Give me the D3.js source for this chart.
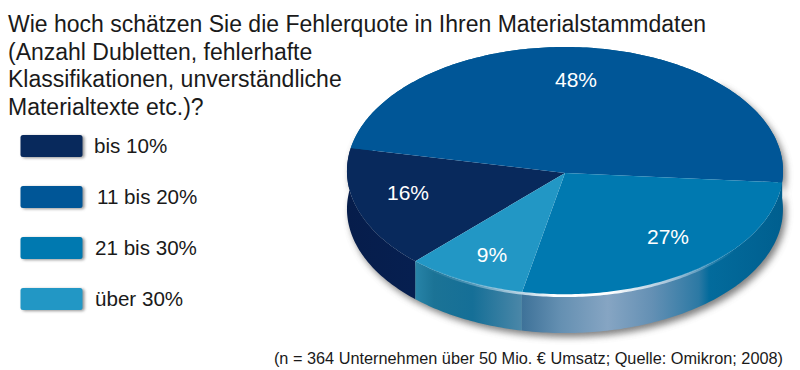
<!DOCTYPE html>
<html><head><meta charset="utf-8">
<script src="https://cdn.jsdelivr.net/npm/d3@7"></script>
<style>html,body{margin:0;padding:0;background:#fff}svg{display:block}text{font-family:"Liberation Sans",Arial,sans-serif}</style>
</head><body><svg id="c" width="800" height="370"></svg>
<script>
const categories=["bis 10%","11 bis 20%","21 bis 30%","über 30%"];
const values=[16,48,27,9];
const sliceColors=["#08295c","#005697","#0079b0","#2297c5"];
const titleLines=["Wie hoch schätzen Sie die Fehlerquote in Ihren Materialstammdaten","(Anzahl Dubletten, fehlerhafte","Klassifikationen, unverständliche","Materialtexte etc.)?"];
const sourceNote="(n = 364 Unternehmen über 50 Mio. € Umsatz; Quelle: Omikron; 2008)";

const svg=d3.select("#c");
const defs=svg.append("defs");
const sh=defs.append("filter").attr("id","sh").attr("x","-10%").attr("y","-10%").attr("width","120%").attr("height","130%");
sh.append("feGaussianBlur").attr("stdDeviation",3.5);
const sh2=defs.append("filter").attr("id","sh2").attr("x","-20%").attr("y","-30%").attr("width","140%").attr("height","170%");
sh2.append("feGaussianBlur").attr("stdDeviation",1.5);
const rimBlur=defs.append("filter").attr("id","rim").attr("x","-5%").attr("y","-20%").attr("width","110%").attr("height","140%");
rimBlur.append("feGaussianBlur").attr("stdDeviation",0.7);

function grad(id,x1,x2,stops){
  const g=defs.append("linearGradient").attr("id",id).attr("gradientUnits","userSpaceOnUse")
    .attr("x1",x1).attr("x2",x2).attr("y1",0).attr("y2",0);
  stops.forEach(s=>g.append("stop").attr("offset",s[0]).attr("stop-color",s[1]));
}
grad("w9",412,522,[[0,"#2a87ab"],[.2,"#1b7396"],[.55,"#156f97"],[1,"#4b87a8"]]);
grad("w27",522,782,[[0,"#3e7299"],[.15,"#6590b2"],[.33,"#86a5c3"],[.5,"#6490b4"],[.68,"#2c79a4"],[.72,"#036b9c"],[1,"#005f8f"]]);
grad("w16",347,412,[[0,"#061d4b"],[1,"#061f50"]]);
grad("w48",700,785,[[0,"#005f8f"],[1,"#00598a"]]);

// circle-to-picture projection of the tilted pie
const cx=565,cy=173,A=218,B=124,k=0.016,depth=38;
const proj=a=>{const u=Math.sin(a),v=-Math.cos(a),w=1+k*v;return [cx+A*u/w,cy+B*v/w];};
const start=-2.374;
const pie=d3.pie().sort(null).value(d=>d).startAngle(start).endAngle(start+2*Math.PI);
const arcs=pie(values);
const line=d3.line();
const rim=(a0,a1)=>{const n=Math.max(2,Math.ceil((a1-a0)*60));return d3.range(n+1).map(i=>proj(a0+(a1-a0)*i/n));};
const slicePath=d=>line([[cx,cy],...rim(d.startAngle,d.endAngle)])+"Z";
const wallPath=(a0,a1)=>{const t=rim(a0,a1);const b=t.slice().reverse().map(p=>[p[0],p[1]+depth]);return line([...t,...b])+"Z";};

// soft shadow under the body
svg.append("path").attr("d",wallPath(0.75,2*Math.PI-1.2)).attr("transform","translate(3,4)")
  .attr("fill","#555").attr("opacity",.75).attr("filter","url(#sh)");

// side wall, one section per slice
const wallFill=["url(#w16)","url(#w48)","url(#w27)","url(#w9)"];
svg.append("g").selectAll("path").data(arcs).join("path")
  .attr("d",d=>wallPath(d.startAngle,d.endAngle)).attr("fill",(d,i)=>wallFill[i]);

// top surface
svg.append("g").selectAll("path").data(arcs).join("path")
  .attr("d",slicePath).attr("fill",(d,i)=>sliceColors[i]);

// highlight along the front rim
defs.append("linearGradient").attr("id","rg").attr("gradientUnits","userSpaceOnUse").attr("x1",425).attr("x2",735).attr("y1",0).attr("y2",0)
  .call(g=>[[0,"#7fb8d6",0],[.3,"#c5dcea",.85],[.42,"#ffffff",1],[.6,"#ffffff",1],[.8,"#b6cfe2",.8],[1,"#7fb8d6",0]].forEach(s=>g.append("stop").attr("offset",s[0]).attr("stop-color",s[1]).attr("stop-opacity",s[2])));
svg.append("path").attr("d",line(rim(arcs[2].startAngle+0.25,arcs[3].endAngle).map(p=>[p[0],p[1]+0.6])))
  .attr("fill","none").attr("stroke","url(#rg)").attr("stroke-width",2.8).attr("filter","url(#rim)");

// percentage labels
const labelPos=[[408,193],[576,80],[668,237],[492,255]];
svg.append("g").selectAll("text").data(values).join("text")
  .attr("x",(d,i)=>labelPos[i][0]).attr("y",(d,i)=>labelPos[i][1]).attr("dy","0.35em")
  .attr("text-anchor","middle").attr("fill","#fff").attr("font-size",21).text(d=>d+"%");

// title
svg.append("g").selectAll("text").data(titleLines).join("text")
  .attr("x",8).attr("y",(d,i)=>32+i*27.7).attr("font-size",23).attr("fill","#1a1a1a").text(d=>d);

// legend
const legendY=d3.scalePoint().domain(categories).range([146,299]);
const legendTextX=[94,97,95,95];
const lg=svg.append("g").selectAll("g").data(categories).join("g");
lg.append("rect").attr("x",22.5).attr("y",d=>legendY(d)-10).attr("width",62).attr("height",22).attr("rx",2.5).attr("fill","#666").attr("opacity",.7).attr("filter","url(#sh2)");
lg.append("rect").attr("x",20.5).attr("y",d=>legendY(d)-11).attr("width",62).attr("height",22).attr("rx",2.5).attr("fill",(d,i)=>sliceColors[i]);
lg.append("text").attr("x",(d,i)=>legendTextX[i]).attr("y",d=>legendY(d)).attr("dy","0.35em").attr("font-size",20.6).attr("fill","#1a1a1a").text(d=>d);

svg.append("text").attr("x",783).attr("y",364).attr("text-anchor","end").attr("font-size",16.3).attr("fill","#1a1a1a").text(sourceNote);
</script></body></html>
